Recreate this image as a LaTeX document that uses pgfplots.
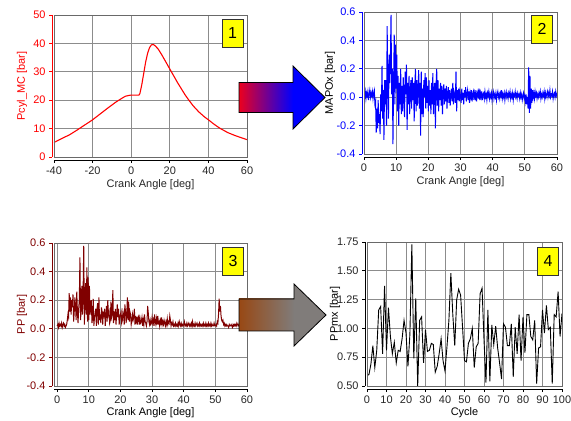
\documentclass[border=0pt]{standalone}
\usepackage{pgfplots}
\pgfplotsset{compat=1.18}
\usepackage{fontspec}
\setmainfont{Liberation Sans}

\definecolor{pcyl}{RGB}{255,0,0}
\definecolor{mapo}{RGB}{0,0,255}
\definecolor{pp}{RGB}{128,0,0}
\definecolor{gridgray}{RGB}{140,140,140}
\definecolor{framegray}{RGB}{105,105,105}
\definecolor{boxyellow}{RGB}{255,255,0}
\definecolor{arrred}{RGB}{235,0,30}
\definecolor{arrblue}{RGB}{0,0,255}
\definecolor{arrbrown}{RGB}{152,72,20}
\definecolor{arrgray}{RGB}{128,124,122}

\pgfplotsset{
  panel/.style={
    scale only axis, anchor=south west,
    width=193bp, height=142bp,
    axis x line=bottom, axis y line=left,
    axis line style={-, line width=0.8bp},
    axis x line shift=3bp, axis y line shift=2bp,
    tick align=outside, major tick length=3bp,
    every tick/.style={line width=0.8bp},
    grid=major, grid style={gridgray, line width=0.8bp},
    font=\fontsize{11}{13}\selectfont,
    /pgf/number format/assume math mode=true,
    extra description/.code={\draw[framegray, line width=0.8bp] (0,0) rectangle (1,1);},
    every axis y label/.style={at={(axis description cs:-0.166,0.5)}, rotate=90, anchor=center},
    every axis x label/.style={at={(axis description cs:0.5,-0.197)}, anchor=center},
    x axis line style={black}, xtick style={black},
    xticklabel style={black!85},
    xlabel style={black!85},
  },
}

\begin{document}
\begin{tikzpicture}
\useasboundingbox (0,0) rectangle (571bp,421bp);

% ---- 1: cylinder pressure ----
\begin{axis}[panel, at={(54bp,264bp)},
  xmin=-40, xmax=60, ymin=0, ymax=50,
  xtick={-40,-20,...,60}, ytick={0,10,...,50},
  y axis line style={pcyl}, ytick style={pcyl},
  yticklabel style={pcyl}, ylabel style={pcyl},
  xlabel={Crank Angle [deg]}, ylabel={Pcyl\_MC [bar]}]
\addplot[pcyl, line width=1.1bp] coordinates {
(-40,5.1) (-36,6.5) (-32,7.8) (-28,9.5) (-24,11.3) (-20,13.1) (-16,15.2) (-12,17.3)
(-8,19.3) (-5,20.6) (-3,21.4) (-1,21.7) (0,21.8) (2,21.8) (4,21.8) (4.5,22.3)
(5.5,25.5) (6.5,29.5) (7.5,33.5) (8.5,36.5) (9.5,38.5) (10.5,39.5) (11.5,39.6)
(12.5,39.1) (14,38.0) (16,35.8) (18,33.4) (20,31.0) (22,28.6) (24,26.2) (26,24.0)
(28,21.8) (30,19.9) (32,18.1) (35,15.9) (38,14.1) (40,13.1) (43,11.5) (46,10.1)
(50,8.6) (54,7.5) (57,6.8) (60,6.1)};
\end{axis}

% ---- 2: band-pass filtered pressure ----
\begin{axis}[panel, at={(364bp,267bp)},
  xmin=0, xmax=60, ymin=-0.4, ymax=0.6,
  xtick={0,10,...,60}, ytick={-0.4,-0.2,...,0.61},
  yticklabel style={mapo, /pgf/number format/.cd, fixed, fixed zerofill, precision=1},
  y axis line style={mapo}, ytick style={mapo}, ylabel style={mapo},
  every axis y label/.style={at={(axis description cs:-0.176,0.5)}, rotate=90, anchor=center},
  xlabel={Crank Angle [deg]}, ylabel={MAPOx [bar]}]
\addplot[mapo, line width=1bp] coordinates {
(0,0.02) (0.2,0.00) (0.4,0.04) (0.6,-0.01) (0.8,0.03) (1,0.01) (1.2,0.04) (1.4,-0.02) (1.6,0.02) (1.8,0.05)
(2,0.00) (2.2,0.03) (2.4,0.01) (2.6,0.04) (2.8,-0.01) (3,0.03) (3.2,0.05) (3.4,-0.05) (3.6,-0.03) (3.8,-0.25)
(4,-0.08) (4.2,-0.22) (4.4,-0.02) (4.6,-0.18) (4.8,-0.12) (5,-0.26) (5.2,0.02) (5.4,-0.10) (5.6,0.22) (5.8,-0.15)
(6,0.05) (6.2,-0.30) (6.4,0.12) (6.6,-0.05) (6.8,0.12) (7,-0.20) (7.2,0.50) (7.4,0.05) (7.6,-0.15) (7.8,0.30)
(8,0.10) (8.2,0.25) (8.4,0.58) (8.6,0.02) (8.8,0.20) (9,-0.33) (9.2,0.10) (9.4,0.44) (9.6,-0.05) (9.8,0.37)
(10,0.06) (10.2,0.30) (10.4,-0.10) (10.6,0.15) (10.8,-0.20) (11,0.10) (11.2,-0.05) (11.4,0.20) (11.6,-0.12) (11.8,0.08)
(12,-0.10) (12.2,0.14) (12.4,0.00) (12.6,-0.14) (12.8,0.18) (13,0.02) (13.2,0.23) (13.4,-0.23) (13.6,0.10) (13.8,-0.05)
(14,0.15) (14.2,-0.12) (14.4,0.06) (14.6,0.12) (14.8,-0.08) (15,0.14) (15.2,-0.02) (15.4,0.10) (15.6,-0.17) (15.8,0.08)
(16,0.20) (16.2,-0.10) (16.4,0.12) (16.6,-0.06) (16.8,0.05) (17,0.19) (17.2,-0.08) (17.4,0.10) (17.6,-0.27) (17.8,0.18)
(18,-0.12) (18.2,0.06) (18.4,-0.14) (18.6,0.12) (18.8,0.00) (19,0.17) (19.2,-0.08) (19.4,0.14) (19.6,-0.04) (19.8,0.08)
(20,-0.10) (20.2,0.12) (20.4,-0.06) (20.6,0.05) (20.8,-0.12) (21,0.10) (21.2,-0.05) (21.4,0.17) (21.6,-0.12) (21.8,0.04)
(22,0.10) (22.2,-0.22) (22.4,0.08) (22.6,0.20) (22.8,-0.06) (23,0.12) (23.2,-0.10) (23.4,0.06) (23.6,-0.02) (23.8,0.10)
(24,-0.06) (24.2,0.08) (24.4,-0.12) (24.6,0.04) (24.8,0.09) (25,-0.05) (25.2,0.06) (25.4,-0.03) (25.6,0.08) (25.8,-0.08)
(26,0.03) (26.2,0.07) (26.4,-0.04) (26.6,0.05) (26.8,-0.06) (27,0.02) (27.2,0.06) (27.4,-0.03) (27.6,0.10) (27.8,-0.05)
(28,0.04) (28.2,0.02) (28.4,-0.04) (28.6,0.18) (28.8,-0.10) (29,0.05) (29.2,-0.02) (29.4,0.06) (29.6,-0.03) (29.8,0.04)
(30,0.01) (30.2,-0.04) (30.4,0.06) (30.6,-0.02) (30.8,0.03) (31,-0.05) (31.2,0.05) (31.4,0.00) (31.6,0.07) (31.8,-0.03)
(32,0.02) (32.2,0.05) (32.4,-0.02) (32.6,0.04) (32.8,-0.04) (33,0.03) (33.2,0.00) (33.4,0.05) (33.6,-0.03) (33.8,0.02)
(34,0.04) (34.2,-0.02) (34.4,0.03) (34.6,0.00) (34.8,0.05) (35,-0.03) (35.2,0.02) (35.4,0.04) (35.6,-0.01) (35.8,0.06)
(36,-0.02) (36.2,0.03) (36.4,0.00) (36.6,0.04) (36.8,-0.02) (37,0.02) (37.2,0.03) (37.4,-0.01) (37.6,0.04) (37.8,0.00)
(38,0.02) (38.2,-0.02) (38.4,0.03) (38.6,0.01) (38.8,0.04) (39,-0.01) (39.2,0.02) (39.4,0.00) (39.6,0.03) (39.8,-0.02)
(40,0.02) (40.2,0.04) (40.4,-0.01) (40.6,0.02) (40.8,0.00) (41,0.03) (41.2,-0.02) (41.4,0.02) (41.6,0.04) (41.8,0.00)
(42,0.02) (42.2,-0.01) (42.4,0.03) (42.6,0.01) (42.8,0.05) (43,-0.01) (43.2,0.02) (43.4,0.00) (43.6,0.03) (43.8,-0.02)
(44,0.02) (44.2,0.04) (44.4,0.00) (44.6,0.02) (44.8,-0.01) (45,0.03) (45.2,0.01) (45.4,0.04) (45.6,-0.01) (45.8,0.02)
(46,0.00) (46.2,0.03) (46.4,-0.02) (46.6,0.02) (46.8,0.01) (47,0.04) (47.2,0.00) (47.4,0.02) (47.6,-0.01) (47.8,0.03)
(48,0.01) (48.2,0.02) (48.4,-0.01) (48.6,0.03) (48.8,0.00) (49,0.02) (49.2,-0.02) (49.4,0.01) (49.6,0.03) (49.8,-0.01)
(50,0.01) (50.2,-0.03) (50.4,0.02) (50.6,-0.05) (50.8,0.00) (51,-0.08) (51.2,0.21) (51.4,-0.11) (51.6,0.15) (51.8,-0.08)
(52,0.06) (52.2,-0.04) (52.4,0.05) (52.6,0.00) (52.8,0.03) (53,-0.01) (53.2,0.04) (53.4,0.01) (53.6,0.03) (53.8,-0.01)
(54,0.02) (54.2,0.00) (54.4,0.03) (54.6,0.01) (54.8,0.04) (55,-0.01) (55.2,0.02) (55.4,0.00) (55.6,0.03) (55.8,0.01)
(56,0.04) (56.2,-0.01) (56.4,0.03) (56.6,0.00) (56.8,0.02) (57,0.04) (57.2,0.00) (57.4,0.03) (57.6,0.01) (57.8,0.05)
(58,0.00) (58.2,0.02) (58.4,0.01) (58.6,0.04) (58.8,-0.01) (59,0.02) (59.2,0.03) (59.4,0.00) (59.6,0.04) (59.8,0.01) (60,0.03)};
\end{axis}

% ---- 3: peak-to-peak amplitude ----
\begin{axis}[panel, at={(54bp,35bp)}, height=143bp,
  xmin=-1, xmax=60, ymin=-0.4, ymax=0.6,
  xtick={0,10,...,60}, ytick={-0.4,-0.2,...,0.61},
  yticklabel style={pp, /pgf/number format/.cd, fixed, fixed zerofill, precision=1},
  y axis line style={pp}, ytick style={pp}, ylabel style={pp},
  every axis x label/.style={at={(axis description cs:0.5,-0.189)}, anchor=center},
  xlabel={Crank Angle [deg]}, ylabel={PP [bar]}]
\addplot[pp, line width=1bp] coordinates {
(0,0.02) (0.2,0.03) (0.4,0.01) (0.6,0.04) (0.8,0.02) (1,0.03) (1.2,0.02) (1.4,0.04) (1.6,0.01) (1.8,0.03)
(2,0.04) (2.2,0.02) (2.4,0.03) (2.6,0.01) (2.8,0.02) (3,0.03) (3.2,0.06) (3.4,0.10) (3.6,0.08) (3.8,0.25)
(4,0.12) (4.2,0.22) (4.4,0.10) (4.6,0.20) (4.8,0.15) (5,0.24) (5.2,0.05) (5.4,0.12) (5.6,0.22) (5.8,0.16)
(6,0.06) (6.2,0.26) (6.4,0.12) (6.6,0.04) (6.8,0.14) (7,0.20) (7.2,0.50) (7.4,0.06) (7.6,0.15) (7.8,0.30)
(8,0.10) (8.2,0.26) (8.4,0.58) (8.6,0.03) (8.8,0.20) (9,0.32) (9.2,0.10) (9.4,0.43) (9.6,0.05) (9.8,0.36)
(10,0.06) (10.2,0.30) (10.4,0.10) (10.6,0.15) (10.8,0.20) (11,0.04) (11.2,0.08) (11.4,0.21) (11.6,0.02) (11.8,0.08)
(12,0.10) (12.2,0.14) (12.4,0.02) (12.6,0.14) (12.8,0.18) (13,0.03) (13.2,0.22) (13.4,0.06) (13.6,0.10) (13.8,0.04)
(14,0.15) (14.2,0.12) (14.4,0.03) (14.6,0.12) (14.8,0.08) (15,0.14) (15.2,0.02) (15.4,0.10) (15.6,0.16) (15.8,0.05)
(16,0.20) (16.2,0.10) (16.4,0.12) (16.6,0.04) (16.8,0.06) (17,0.19) (17.2,0.08) (17.4,0.10) (17.6,0.27) (17.8,0.04)
(18,0.12) (18.2,0.06) (18.4,0.14) (18.6,0.03) (18.8,0.10) (19,0.17) (19.2,0.08) (19.4,0.14) (19.6,0.03) (19.8,0.08)
(20,0.10) (20.2,0.12) (20.4,0.04) (20.6,0.06) (20.8,0.12) (21,0.10) (21.2,0.03) (21.4,0.17) (21.6,0.12) (21.8,0.04)
(22,0.10) (22.2,0.22) (22.4,0.06) (22.6,0.19) (22.8,0.05) (23,0.12) (23.2,0.10) (23.4,0.03) (23.6,0.06) (23.8,0.10)
(24,0.06) (24.2,0.08) (24.4,0.14) (24.6,0.03) (24.8,0.09) (25,0.05) (25.2,0.07) (25.4,0.03) (25.6,0.08) (25.8,0.09)
(26,0.03) (26.2,0.07) (26.4,0.04) (26.6,0.05) (26.8,0.08) (27,0.02) (27.2,0.06) (27.4,0.03) (27.6,0.10) (27.8,0.05)
(28,0.04) (28.2,0.02) (28.4,0.05) (28.6,0.16) (28.8,0.11) (29,0.05) (29.2,0.03) (29.4,0.06) (29.6,0.03) (29.8,0.04)
(30,0.08) (30.2,0.04) (30.4,0.06) (30.6,0.02) (30.8,0.10) (31,0.05) (31.2,0.03) (31.4,0.07) (31.6,0.03) (31.8,0.09)
(32,0.04) (32.2,0.05) (32.4,0.02) (32.6,0.06) (32.8,0.04) (33,0.08) (33.2,0.03) (33.4,0.05) (33.6,0.03) (33.8,0.06)
(34,0.04) (34.2,0.02) (34.4,0.05) (34.6,0.03) (34.8,0.07) (35,0.03) (35.2,0.05) (35.4,0.04) (35.6,0.09) (35.8,0.06)
(36,0.02) (36.2,0.04) (36.4,0.03) (36.6,0.05) (36.8,0.02) (37,0.03) (37.2,0.02) (37.4,0.04) (37.6,0.02) (37.8,0.03)
(38,0.02) (38.2,0.04) (38.4,0.02) (38.6,0.05) (38.8,0.03) (39,0.02) (39.2,0.04) (39.4,0.02) (39.6,0.03) (39.8,0.02)
(40,0.03) (40.2,0.05) (40.4,0.02) (40.6,0.03) (40.8,0.02) (41,0.04) (41.2,0.02) (41.4,0.03) (41.6,0.04) (41.8,0.02)
(42,0.03) (42.2,0.02) (42.4,0.04) (42.6,0.02) (42.8,0.05) (43,0.02) (43.2,0.03) (43.4,0.02) (43.6,0.04) (43.8,0.02)
(44,0.03) (44.2,0.04) (44.4,0.02) (44.6,0.03) (44.8,0.02) (45,0.04) (45.2,0.02) (45.4,0.03) (45.6,0.02) (45.8,0.03)
(46,0.02) (46.2,0.04) (46.4,0.02) (46.6,0.03) (46.8,0.02) (47,0.04) (47.2,0.02) (47.4,0.03) (47.6,0.02) (47.8,0.04)
(48,0.02) (48.2,0.03) (48.4,0.02) (48.6,0.04) (48.8,0.02) (49,0.03) (49.2,0.02) (49.4,0.02) (49.6,0.04) (49.8,0.02)
(50,0.02) (50.2,0.03) (50.4,0.02) (50.6,0.05) (50.8,0.04) (51,0.10) (51.2,0.21) (51.4,0.12) (51.6,0.16) (51.8,0.09)
(52,0.06) (52.2,0.05) (52.4,0.06) (52.6,0.03) (52.8,0.04) (53,0.02) (53.2,0.03) (53.4,0.02) (53.6,0.03) (53.8,0.02)
(54,0.02) (54.2,0.01) (54.4,0.03) (54.6,0.02) (54.8,0.02) (55,0.03) (55.2,0.02) (55.4,0.01) (55.6,0.03) (55.8,0.02)
(56,0.03) (56.2,0.02) (56.4,0.03) (56.6,0.02) (56.8,0.04) (57,0.03) (57.2,0.02) (57.4,0.03) (57.6,0.04) (57.8,0.02)
(58,0.03) (58.2,0.02) (58.4,0.03) (58.6,0.02) (58.8,0.04) (59,0.02) (59.2,0.03) (59.4,0.02) (59.6,0.03) (59.8,0.02) (60,0.03)};
\end{axis}

% ---- 4: maximum PP per cycle ----
\begin{axis}[panel, at={(367bp,35bp)}, width=195bp, height=144bp,
  xmin=0, xmax=100, ymin=0.5, ymax=1.75,
  xtick={0,10,...,100}, ytick={0.5,0.75,...,1.76},
  yticklabel style={black!85, /pgf/number format/.cd, fixed, fixed zerofill, precision=2},
  y axis line style={black}, ytick style={black}, ylabel style={black!85},
  every axis y label/.style={at={(axis description cs:-0.164,0.5)}, rotate=90, anchor=center},
  every axis x label/.style={at={(axis description cs:0.5,-0.188)}, anchor=center},
  xlabel={Cycle}, ylabel={PPmx [bar]}]
\addplot[black, line width=0.9bp] coordinates {
(0,0.59) (1,0.60) (2,0.69) (3,0.85) (4,0.66) (5,0.81) (6,1.16) (7,1.19) (8,0.78) (9,1.37)
(10,0.81) (11,1.18) (12,0.93) (13,0.78) (14,0.88) (15,0.70) (16,0.81) (17,0.80) (18,0.91) (19,1.07)
(20,0.96) (21,0.67) (22,0.95) (23,1.73) (24,0.74) (25,1.26) (26,0.50) (27,1.07) (28,1.10) (29,0.70)
(30,0.99) (31,0.80) (32,0.81) (33,0.87) (34,0.86) (35,0.62) (36,0.67) (37,0.78) (38,0.91) (39,0.72)
(40,0.63) (41,0.84) (42,1.07) (43,1.48) (44,1.12) (45,0.85) (46,1.25) (47,1.34) (48,1.29) (49,1.01)
(50,0.72) (51,0.71) (52,0.87) (53,0.91) (54,1.00) (55,0.66) (56,0.84) (57,0.87) (58,1.30) (59,1.35)
(60,0.90) (61,0.53) (62,1.16) (63,0.54) (64,1.03) (65,0.86) (66,1.02) (67,0.83) (68,0.70) (69,0.56)
(70,1.04) (71,1.01) (72,0.85) (73,0.85) (74,1.04) (75,0.58) (76,1.01) (77,0.78) (78,1.12) (79,0.72)
(80,1.10) (81,0.79) (82,1.12) (83,1.12) (84,0.93) (85,0.90) (86,1.07) (87,0.52) (88,0.83) (89,0.84)
(90,1.16) (91,0.96) (92,1.20) (93,0.99) (94,1.01) (95,0.52) (96,1.12) (97,1.10) (98,1.32) (99,0.93) (100,1.13)};
\end{axis}

% ---- step arrows between the panels ----
\begin{scope}[x=1bp, y=1bp, line width=0.8bp]
  \shade[left color=arrred, right color=arrblue] (239,308.5) rectangle (293,338.5);
  \fill[arrblue] (293,292) -- (325,323.5) -- (293,355) -- cycle;
  \draw[black, line join=miter] (239,308.5) -- (293,308.5) -- (293,292) -- (325,323.5)
        -- (293,355) -- (293,338.5) -- (239,338.5) -- cycle;

  \shade[left color=arrbrown, right color=arrgray] (239,90) rectangle (294,122);
  \fill[arrgray] (294,75) -- (326,106) -- (294,137) -- cycle;
  \draw[black, line join=miter] (239,90) -- (294,90) -- (294,75) -- (326,106)
        -- (294,137) -- (294,122) -- (239,122) -- cycle;
\end{scope}

% ---- step numbers ----
\begin{scope}[x=1bp, y=1bp]
  \tikzset{stepno/.style={fill=boxyellow, draw=black!80, line width=0.8bp,
    minimum width=21bp, minimum height=28bp, inner sep=0pt,
    font=\fontsize{16}{16}\selectfont}}
  \node[stepno] at (232.5,388) {1};
  \node[stepno] at (542,392) {2};
  \node[stepno] at (233,160) {3};
  \node[stepno] at (548,160) {4};
\end{scope}
\end{tikzpicture}
\end{document}
